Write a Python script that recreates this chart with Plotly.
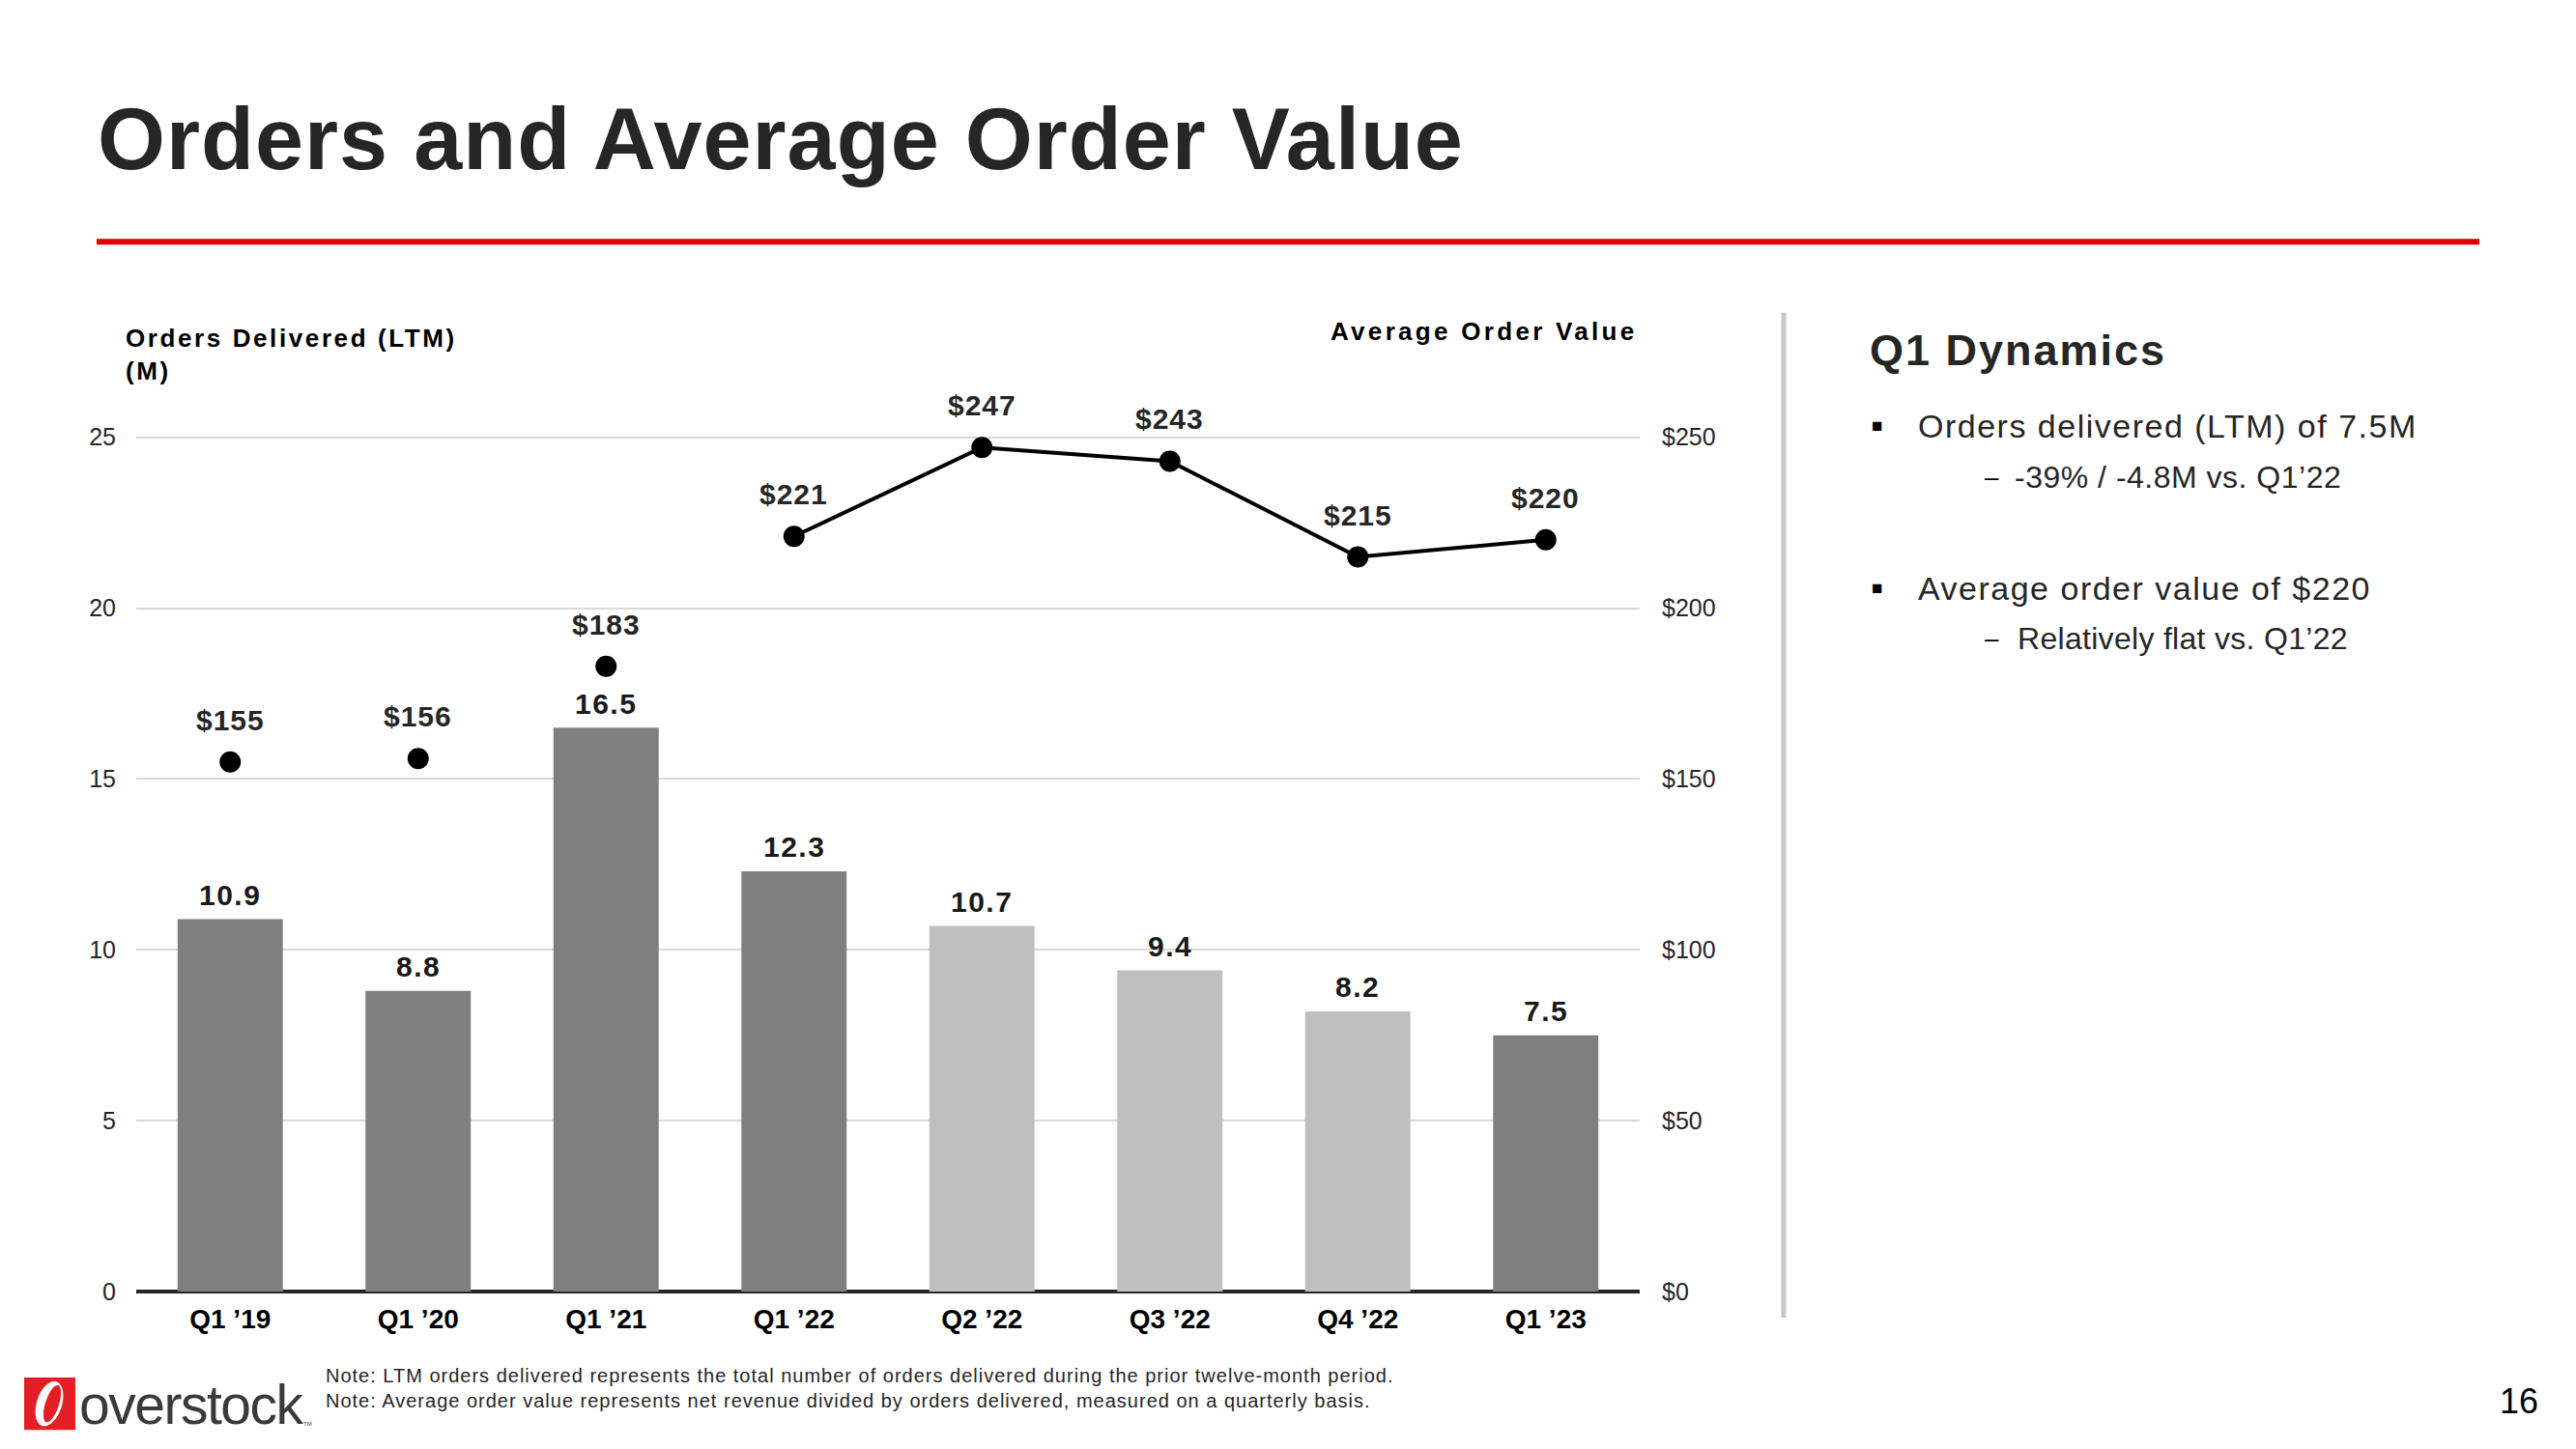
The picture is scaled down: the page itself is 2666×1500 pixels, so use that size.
import numpy as np
import plotly.graph_objects as go

# ---------------- data ----------------
quarters = ["Q1 ’19", "Q1 ’20", "Q1 ’21", "Q1 ’22", "Q2 ’22", "Q3 ’22", "Q4 ’22", "Q1 ’23"]
orders_m = [10.9, 8.8, 16.5, 12.3, 10.7, 9.4, 8.2, 7.5]
aov = [155, 156, 183, 221, 247, 243, 215, 220]
left_ticks = [0, 5, 10, 15, 20, 25]
right_ticks = [0, 50, 100, 150, 200, 250]

W, H = 2666, 1500
K = 0.9892  # vertical compensation for the page photograph
NARROW = "Liberation Sans Narrow, Arial Narrow, Liberation Sans, Arial"
ARIAL = "Liberation Sans, Arial"
DARK = "#7F7F7F"
LIGHT = "#BFBFBF"


def px(x):
    return x / W


def py(y):
    return 1 - (y / K) / H


def sp(text, ls):
    return f'<span style="letter-spacing:{ls}px">{text}</span>'


bar_colors = [DARK if q.startswith("Q1") else LIGHT for q in quarters]

fig = go.Figure()
fig.add_trace(go.Bar(x=quarters, y=orders_m, marker=dict(color=bar_colors, line=dict(width=0)),
                     yaxis="y", showlegend=False, hoverinfo="skip"))

# first three points are standalone markers; 2022 onwards connected
split = 3
fig.add_trace(go.Scatter(x=quarters[:split], y=aov[:split], mode="markers", yaxis="y2",
                         marker=dict(size=22, color="#000000"), showlegend=False, hoverinfo="skip"))
fig.add_trace(go.Scatter(x=quarters[split:], y=aov[split:], mode="lines+markers", yaxis="y2",
                         line=dict(color="#000000", width=4),
                         marker=dict(size=22, color="#000000"), showlegend=False, hoverinfo="skip"))

ann = []
for q, v in zip(quarters, orders_m):
    ann.append(dict(x=q, y=v, xref="x", yref="y", text=sp(f"{v:.1f}", 1.5), showarrow=False,
                    yshift=25 / K, yanchor="middle",
                    font=dict(family=NARROW, size=30, color="#1A1A1A", weight="bold")))
for q, v in zip(quarters, aov):
    ann.append(dict(x=q, y=v, xref="x", yref="y2", text=sp(f"${v}", 1), showarrow=False,
                    yshift=43 / K, yanchor="middle",
                    font=dict(family=NARROW, size=30, color="#262626", weight="bold")))

# axis headers
ann.append(dict(x=px(128), y=py(366), xref="paper", yref="paper", xanchor="left", yanchor="middle",
                align="left", showarrow=False,
                text=sp("Orders Delivered (LTM)", 2.6) + "<br>" + sp("(M)", 2.6),
                font=dict(family=NARROW, size=26, color="#000000", weight="bold")))
ann.append(dict(x=px(1697), y=py(342), xref="paper", yref="paper", xanchor="right", yanchor="middle",
                showarrow=False, text=sp("Average Order Value", 3.3),
                font=dict(family=NARROW, size=26, color="#000000", weight="bold")))

# title
ann.append(dict(x=px(99), y=py(144), xref="paper", yref="paper", xanchor="left", yanchor="middle",
                showarrow=False, text=sp("Orders and Average Order Value", 1),
                font=dict(family=NARROW, size=90, color="#262626", weight="bold")))

# right panel
ann.append(dict(x=px(1933), y=py(362), xref="paper", yref="paper", xanchor="left", yanchor="middle",
                showarrow=False, text=sp("Q1 Dynamics", 2),
                font=dict(family=NARROW, size=45, color="#262626", weight="bold")))
panel = [
    ("■", 1935, "Orders delivered (LTM) of 7.5M", 1983, 440, 34, 1.5),
    ("–", 2052, "-39% / -4.8M vs. Q1’22", 2083, 493, 32, 0.5),
    ("■", 1935, "Average order value of $220", 1983, 608, 34, 1.5),
    ("–", 2052, "Relatively flat vs. Q1’22", 2086, 660, 32, 0.3),
]
for b, bx, t, tx, ty, fs, ls in panel:
    ann.append(dict(x=px(bx), y=py(ty), xref="paper", yref="paper", xanchor="left", yanchor="middle",
                    showarrow=False, text=b,
                    font=dict(family=ARIAL, size=19 if b == "■" else 26, color="#000000")))
    ann.append(dict(x=px(tx), y=py(ty), xref="paper", yref="paper", xanchor="left", yanchor="middle",
                    showarrow=False, text=sp(t, ls),
                    font=dict(family=NARROW, size=fs, color="#262626")))

# notes
ann.append(dict(x=px(335), y=py(1435), xref="paper", yref="paper", xanchor="left", yanchor="middle",
                align="left", showarrow=False,
                text=sp("Note: LTM orders delivered represents the total number of orders delivered during the prior twelve-month period.", 1)
                + "<br>" + sp("Note: Average order value represents net revenue divided by orders delivered, measured on a quarterly basis.", 1),
                font=dict(family=NARROW, size=20, color="#262626")))

# logo text
ann.append(dict(x=px(80), y=py(1452), xref="paper", yref="paper", xanchor="left", yanchor="middle",
                showarrow=False, text=sp("overstock", -1.5),
                font=dict(family=NARROW, size=57, color="#3A3A3A")))
ann.append(dict(x=px(312), y=py(1472), xref="paper", yref="paper", xanchor="left", yanchor="middle",
                showarrow=False, text="TM", font=dict(family=ARIAL, size=6, color="#333333")))

# page number
ann.append(dict(x=px(2607), y=py(1448), xref="paper", yref="paper", xanchor="center", yanchor="middle",
                showarrow=False, text="16", font=dict(family=ARIAL, size=36, color="#000000")))

shapes = [
    dict(type="line", xref="paper", yref="paper", x0=px(100), x1=px(2566), y0=py(250), y1=py(250),
         line=dict(color="#E00000", width=6)),
    dict(type="line", xref="paper", yref="paper", x0=px(1846), x1=px(1846), y0=py(323), y1=py(1362),
         line=dict(color="#C8C8C8", width=5)),
    dict(type="rect", xref="paper", yref="paper", x0=px(25), x1=px(78), y0=py(1424), y1=py(1478),
         line=dict(width=0), fillcolor="#E31E24"),
]


def ellipse_path(cx, cy, rx, ry, ang_deg, n=60):
    t = np.linspace(0, 2 * np.pi, n)
    a = np.deg2rad(ang_deg)
    xs = cx + rx * np.cos(t) * np.cos(a) - ry * np.sin(t) * np.sin(a)
    ys = cy + rx * np.cos(t) * np.sin(a) + ry * np.sin(t) * np.cos(a)
    pts = [f"{px(x):.6f},{py(y):.6f}" for x, y in zip(xs, ys)]
    return "M" + " L".join(pts) + " Z"


shapes.append(dict(type="path", xref="paper", yref="paper", path=ellipse_path(51, 1451, 13, 24, 18),
                   fillcolor="#FFFFFF", line=dict(width=0)))
shapes.append(dict(type="path", xref="paper", yref="paper", path=ellipse_path(54, 1451, 7, 20, 18),
                   fillcolor="#E31E24", line=dict(width=0)))

# plot area: x from 141 to 1697, y zero at 1335, 25 units = 883 px
zero_y, unit_px, top_y = 1335, 883 / 25, 300
y_top = (zero_y - top_y) / unit_px
fig.update_layout(
    width=W, height=H,
    margin=dict(l=0, r=0, t=0, b=0),
    paper_bgcolor="#FFFFFF", plot_bgcolor="#FFFFFF",
    bargap=0.44,
    annotations=ann, shapes=shapes,
    xaxis=dict(domain=[px(141), px(1697)], type="category", categoryorder="array", categoryarray=quarters,
               range=[-0.5, len(quarters) - 0.5], showgrid=False, showline=False, ticks="",
               tickfont=dict(family=ARIAL, size=28, color="#000000", weight="bold"),
               ticklabelstandoff=9),
    yaxis=dict(domain=[py(zero_y), py(top_y)], range=[0, y_top], tickvals=left_ticks,
               showgrid=True, gridcolor="#D9D9D9", gridwidth=2,
               zeroline=True, zerolinecolor="#262626", zerolinewidth=4, showline=False, ticks="",
               tickfont=dict(family=NARROW, size=25, color="#262626"), ticklabelstandoff=20),
    yaxis2=dict(overlaying="y", side="right", anchor="x", range=[0, y_top * 10], tickmode="array",
                tickvals=right_ticks, ticktext=[f"${v}" for v in right_ticks],
                showgrid=False, zeroline=False, showline=False, ticks="",
                tickfont=dict(family=NARROW, size=25, color="#262626"), ticklabelstandoff=22),
)

post = "document.body.style.margin='0';"
fig.write_html("out.html", config={"displayModeBar": False}, post_script=post)
